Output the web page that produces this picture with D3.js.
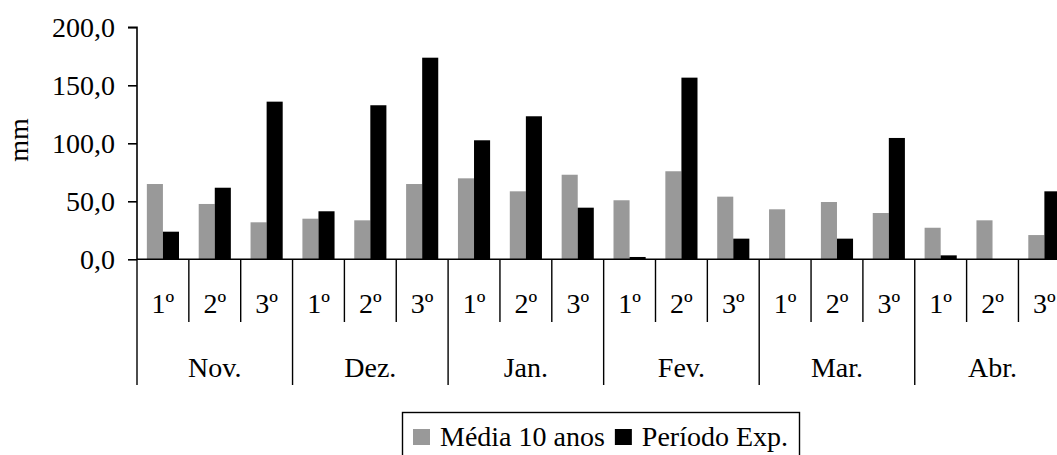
<!DOCTYPE html>
<html>
<head>
<meta charset="utf-8">
<script src="https://cdn.jsdelivr.net/npm/d3@7"></script>
<style>
  html, body { margin: 0; padding: 0; background: #fff; overflow: hidden; }
  svg { display: block; }
  svg text { font-family: "Liberation Serif", serif; fill: #000; }
</style>
</head>
<body>
<svg id="chart" width="1057" height="455"></svg>
<script>
// Precipitação por decêndio (mm), novembro a abril
const months = ["Nov.", "Dez.", "Jan.", "Fev.", "Mar.", "Abr."];
const decades = ["1º", "2º", "3º"];
const seriesNames = ["Média 10 anos", "Período Exp."];
const media10 = [64.9, 47.7, 31.9, 35.0, 33.6, 64.9, 69.8, 58.6, 72.9, 50.9, 75.9, 54.0, 43.1, 49.4, 39.9, 27.2, 33.6, 20.9];
const periodoExp = [23.8, 61.7, 135.9, 41.4, 132.8, 173.8, 102.6, 123.3, 44.5, 2.0, 156.6, 17.8, 0.0, 17.8, 104.6, 3.4, 0.0, 58.6];
const yTicks = [0, 50, 100, 150, 200];
const colors = ["#999999", "#000000"];

const rows = [];
months.forEach((m, i) => decades.forEach((d, j) => {
  const k = i * 3 + j;
  rows.push({ key: k, month: m, decade: d, values: [media10[k], periodoExp[k]] });
}));

const svg = d3.select("#chart");
const fontSize = 28;
const serif = "'Liberation Serif', serif";

const x0 = 137, step = 51.85;
const x = d3.scaleBand().domain(rows.map(r => r.key)).range([x0, x0 + step * rows.length]).padding(0);
const xs = d3.scaleBand().domain([0, 1]).range([0, x.bandwidth()]).paddingInner(0).paddingOuter(0.613);
const y = d3.scaleLinear().domain([0, 200]).range([259.3, 27.3]);

// Bars
const g = svg.append("g");
const groups = g.selectAll("g.cat").data(rows).join("g")
  .attr("class", "cat")
  .attr("transform", d => `translate(${x(d.key)},0)`);
groups.selectAll("rect").data(d => d.values.map((v, i) => ({ v, i }))).join("rect")
  .attr("x", d => xs(d.i))
  .attr("width", xs.bandwidth())
  .attr("y", d => y(d.v))
  .attr("height", d => y(0) - y(d.v))
  .attr("fill", d => colors[d.i]);

// Y axis
const locale = d3.formatLocale({ decimal: ",", thousands: ".", grouping: [3], currency: ["", ""] });
const yAxis = d3.axisLeft(y).tickValues(yTicks).tickFormat(locale.format(".1f")).tickSize(9).tickPadding(13);
const ya = svg.append("g").attr("transform", `translate(${x0},0)`).call(yAxis)
  .attr("font-family", serif).attr("font-size", fontSize);
ya.select(".domain").attr("stroke", "#000").attr("stroke-width", 1.6).attr("d", `M-9,${y(200)}H0V${y(0)}`);
ya.selectAll(".tick line").attr("stroke", "#000").attr("stroke-width", 1.6);
ya.selectAll(".tick text").attr("fill", "#000").style("font-size", fontSize + "px").style("font-family", serif);

svg.append("text")
  .attr("transform", `translate(28,140) rotate(-90)`)
  .attr("text-anchor", "middle")
  .style("font-size", fontSize + "px").style("font-family", serif)
  .text("mm");

// X axis: baseline, category separators and labels
const xEnd = x0 + step * rows.length;
svg.append("line").attr("x1", x0).attr("x2", xEnd).attr("y1", y(0)).attr("y2", y(0))
  .attr("stroke", "#000").attr("stroke-width", 1.6);

const boundaries = d3.range(rows.length + 1);
svg.append("g").selectAll("line").data(boundaries).join("line")
  .attr("x1", k => x0 + k * x.step())
  .attr("x2", k => x0 + k * x.step())
  .attr("y1", y(0))
  .attr("y2", k => (k % 3 === 0 ? 385 : 322))
  .attr("stroke", "#000").attr("stroke-width", 1.4);

svg.append("g").selectAll("text").data(rows).join("text")
  .attr("x", d => x(d.key) + x.bandwidth() / 2)
  .attr("y", 313)
  .attr("text-anchor", "middle")
  .style("font-size", fontSize + "px").style("font-family", serif)
  .text(d => d.decade);

svg.append("g").selectAll("text").data(months).join("text")
  .attr("x", (m, i) => x(i * 3) + x.step() * 1.5)
  .attr("y", 377)
  .attr("text-anchor", "middle")
  .style("font-size", fontSize + "px").style("font-family", serif)
  .text(m => m);

// Legend
const legend = svg.append("g");
legend.append("rect")
  .attr("x", 402.5).attr("y", 412.5).attr("width", 397).attr("height", 50)
  .attr("fill", "#fff").attr("stroke", "#000").attr("stroke-width", 1.4);
let lx = 413;
seriesNames.forEach((name, i) => {
  legend.append("rect").attr("x", lx).attr("y", 429).attr("width", 17).attr("height", 16).attr("fill", colors[i]);
  const t = legend.append("text").attr("x", lx + 27).attr("y", 446)
    .style("font-size", fontSize + "px").style("font-family", serif).text(name);
  lx += 27 + t.node().getComputedTextLength() + 10;
});
</script>
</body>
</html>
